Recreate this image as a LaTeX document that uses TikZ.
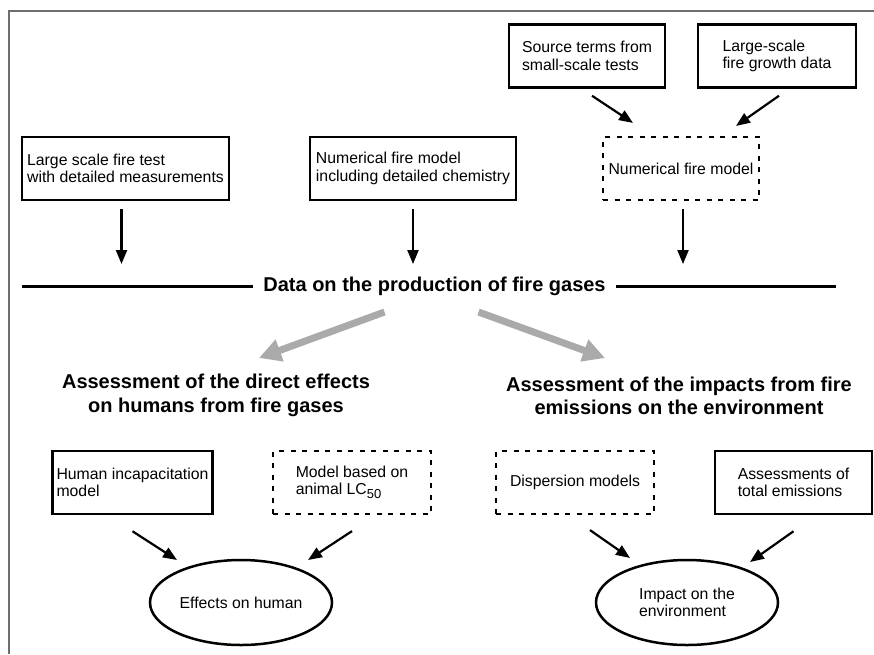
\documentclass[tikz,border=0pt]{standalone}
\usepackage{fontspec}
\usepackage{tikz}
\setmainfont{Liberation Sans}
\definecolor{framegray}{RGB}{110, 110, 110}
\definecolor{flowgray}{RGB}{170, 170, 170}
\usetikzlibrary{positioning,calc,arrows.meta,shapes.geometric}

\begin{document}
\begin{tikzpicture}[x=1pt, y=-1pt,
    box/.style={rectangle, draw, line width=2.5pt, align=left, minimum height=63pt, inner sep=4pt, font=\fontsize{15.8}{17.5}\selectfont},
    dbox/.style={box, line width=2.2pt, dash pattern=on 5pt off 6.5pt},
    ell/.style={ellipse, draw, line width=2.5pt, align=left, minimum width=182pt, minimum height=85pt, inner sep=0pt, font=\fontsize{15.8}{17.5}\selectfont},
    head/.style={align=center, font=\fontsize{20}{23.3}\selectfont\bfseries},
    arr/.style={-{Triangle[length=14pt, width=11pt]}, line width=2.2pt},
    garr/.style={-{Triangle[length=22pt, width=22pt]}, line width=7pt, flowgray}]
    \useasboundingbox (0,0) rectangle (874,654);

    % Frame
    \draw[framegray, line width=2pt] (8.5,654) -- (8.5,10.5) -- (874,10.5);

    % Source boxes
    \node[box, minimum width=156pt] (src) at (587,56) {Source terms from\\small-scale tests};
    \node[box, minimum width=158pt] (grow) at (777,56) {Large-scale\\fire growth data};
    \node[box, minimum width=207pt] (lsft) at (125.5,168.5) {Large scale fire test\\with detailed measurements};
    \node[box, minimum width=206pt] (nchem) at (413,168.5) {Numerical fire model\\including detailed chemistry};
    \node[dbox, minimum width=156pt] (nfm) at (681,168.5) {Numerical fire model};

    % Data line
    \node[font=\fontsize{20}{23.3}\selectfont\bfseries, inner xsep=10pt] (data) at (434.5,286) {Data on the production of fire gases};
    \coordinate (dleft) at (22,286);
    \coordinate (dright) at (836,286);
    \draw[line width=3pt] (dleft) -- (data.west);
    \draw[line width=3pt] (data.east) -- (dright);

    % Headings
    \node[head] (hleft) at (216,395.5) {Assessment of the direct effects\\on humans from fire gases};
    \node[head] (hright) at (679,395.5) {Assessment of the impacts from fire\\emissions on the environment};

    % Assessment boxes
    \node[box, minimum width=159pt] (hum) at (132.5,482.5) {Human incapacitation\\model};
    \node[dbox, minimum width=158pt] (lc) at (352,482.5) {Model based on\\animal LC\raisebox{-4pt}{\fontsize{13}{13}\selectfont 50}};
    \node[dbox, minimum width=158pt] (disp) at (575,482.5) {Dispersion models};
    \node[box, minimum width=157pt] (tot) at (793.5,482.5) {Assessments of\\total emissions};

    % Results
    \node[ell] (eff) at (241,602.5) {Effects on human};
    \node[ell] (env) at (687,602.5) {Impact on the\\environment};

    % Arrows
    \draw[arr] ($(src.south)+(5,7)$) -- ($(nfm.north)+(-48,-13)$);
    \draw[arr] ($(grow.south)+(2,7)$) -- ($(nfm.north)+(55,-10)$);
    \draw[arr, shorten <=8pt, shorten >=22pt] ($(lsft.south)+(-4,0)$) -- ($(lsft.south |- data.center)+(-4,0)$);
    \draw[arr, shorten <=8pt, shorten >=22pt] (nchem.south) -- (nchem.south |- data.center);
    \draw[arr, shorten <=8pt, shorten >=22pt] ($(nfm.south)+(2,0)$) -- ($(nfm.south |- data.center)+(2,0)$);
    \draw[garr] ($(data.center)+(-50,26)$) -- ($(hleft.center)+(43,-37.5)$);
    \draw[garr] ($(data.center)+(44,26)$) -- ($(hright.center)+(-74,-37.5)$);
    \draw[arr] ($(hum.south)+(0,16)$) -- ($(eff.center)+(-64,-42.5)$);
    \draw[arr] ($(lc.south)+(0,16)$) -- ($(eff.center)+(67,-42.5)$);
    \draw[arr] ($(disp.south)+(15,15)$) -- ($(env.center)+(-57,-44.5)$);
    \draw[arr] ($(tot.south)+(0,16)$) -- ($(env.center)+(63,-40.5)$);
\end{tikzpicture}
\end{document}
